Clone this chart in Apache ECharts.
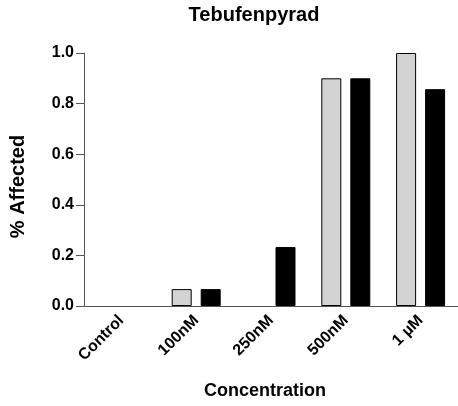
<!DOCTYPE html>
<html>
<head>
<meta charset="utf-8">
<script src="https://cdn.jsdelivr.net/npm/echarts@6/dist/echarts.min.js"></script>
<style>
html,body{margin:0;padding:0;background:#fff;}
#chart{width:458px;height:406px;}
</style>
</head>
<body>
<div id="chart"></div>
<script>
const categories = ['Control', '100nM', '250nM', '500nM', '1 \u00b5M'];
const seriesGray = [0, 0.0667, 0, 0.9, 1.0];
const seriesBlack = [0, 0.0667, 0.233, 0.9, 0.857];
const yTicks = { min: 0, max: 1, interval: 0.2 };

const FONT = '"Liberation Sans", Arial, Helvetica, sans-serif';
// zero-height bars: no outline (nothing is drawn in the reference)
const toItems = arr => arr.map(v => v === 0 ? { value: v, itemStyle: { borderWidth: 0 } } : v);

const chart = echarts.init(document.getElementById('chart'), null, { renderer: 'canvas' });
chart.setOption({
  animation: false,
  backgroundColor: '#ffffff',
  title: {
    text: 'Tebufenpyrad',
    left: 249,
    top: 0,
    textAlign: 'center',
    textStyle: { fontFamily: FONT, fontWeight: 'bold', fontSize: 20, color: '#000' }
  },
  grid: { left: 77, right: 0, top: 53, bottom: 100, containLabel: false },
  xAxis: {
    type: 'category',
    data: categories,
    name: 'Concentration',
    nameLocation: 'middle',
    nameGap: 76,
    nameTextStyle: { fontFamily: FONT, fontWeight: 'bold', fontSize: 18, color: '#000', padding: [0, 12, 0, 0] },
    axisLine: { lineStyle: { color: '#555', width: 1 } },
    axisTick: { alignWithLabel: true, length: 6, lineStyle: { color: '#555' } },
    axisLabel: { rotate: 45, margin: 12, fontFamily: FONT, fontWeight: 'bold', fontSize: 16, color: '#000' },
    splitLine: { show: false }
  },
  yAxis: {
    type: 'value',
    min: yTicks.min,
    max: yTicks.max,
    interval: yTicks.interval,
    name: '% Affected',
    nameLocation: 'middle',
    nameGap: 56,
    nameRotate: 90,
    nameTextStyle: { fontFamily: FONT, fontWeight: 'bold', fontSize: 20, color: '#000', padding: [0, 14, 0, 0] },
    axisLine: { show: true, lineStyle: { color: '#555', width: 1 } },
    axisTick: { show: true, length: 8, lineStyle: { color: '#555' } },
    axisLabel: { margin: 10, fontFamily: FONT, fontWeight: 'bold', fontSize: 16, color: '#000',
      formatter: v => v.toFixed(1) },
    splitLine: { show: false }
  },
  series: [
    {
      type: 'bar',
      data: toItems(seriesGray),
      barWidth: 20,
      barGap: '45%',
      itemStyle: { color: '#d3d3d3', borderColor: '#000', borderWidth: 1 }
    },
    {
      type: 'bar',
      data: toItems(seriesBlack),
      barWidth: 20,
      barGap: '45%',
      itemStyle: { color: '#000', borderColor: '#000', borderWidth: 1 }
    }
  ]
});
</script>
</body>
</html>
